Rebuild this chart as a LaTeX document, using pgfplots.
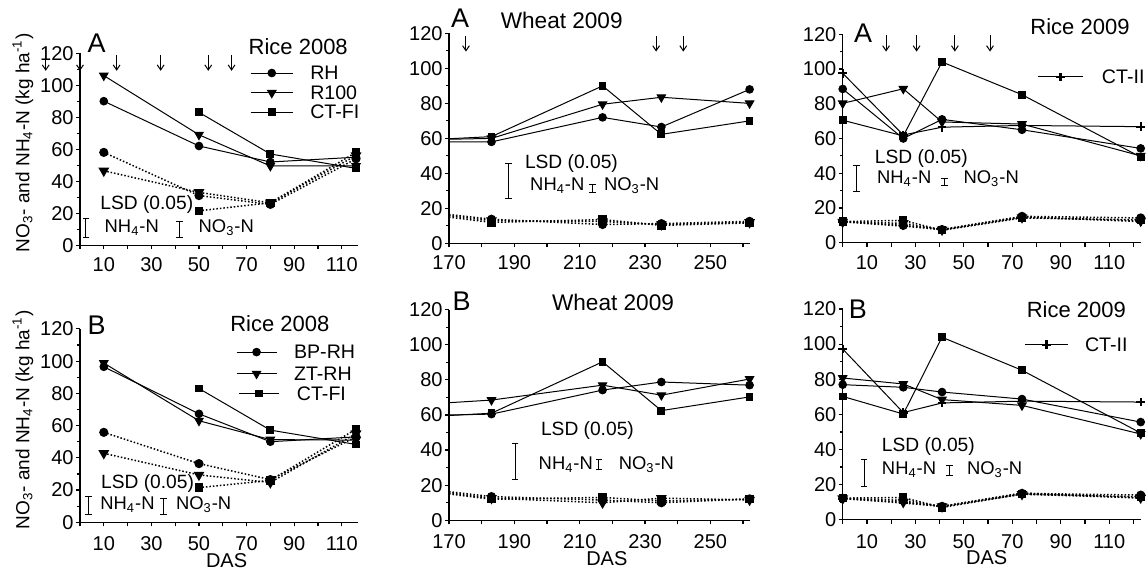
\documentclass[border=0pt]{standalone}
\usepackage{fontspec}
\setmainfont{Liberation Sans}
\usepackage{pgfplots}
\pgfplotsset{compat=1.18}
\usetikzlibrary{arrows.meta}

\newcommand{\fs}[1]{\fontsize{#1}{#1}\selectfont}
\newcommand{\nh}{NH\textsubscript{4}-N}
\newcommand{\no}{NO\textsubscript{3}-N}

\pgfplotsset{
  panel/.style={
    scale only axis,
    axis lines=left,
    axis line style={-, line width=0.6pt, black},
    every tick/.style={black, line width=0.6pt},
    tick align=outside,
    major tick length=2pt,
    minor tick length=1.3pt,
    ymin=0, ymax=120,
    ytick={0,20,...,120},
    minor ytick={10,30,...,110},
    /pgf/number format/assume math mode=true,
    ticklabel style={font=\fs{10}},
    yticklabel style={inner sep=1pt},
    xticklabel style={inner sep=1.5pt, yshift=-2.5pt},
    clip=false,
  },
  bottomrow/.style={xticklabel style={inner sep=1.5pt, yshift=-1pt}},
  riceax/.style={xmin=0, xtick={0,10,...,120}, xticklabels={,10,,30,,50,,70,,90,,110,}},
  wheatax/.style={xmin=170, xmax=262, xtick={170,180,...,260}, xticklabels={170,,190,,210,,230,,250,}},
  sol/.style={black, line width=0.5pt},
  dot/.style={black, line width=0.75pt, densely dotted},
  circ/.style={mark=*, mark options={solid, fill=black}, mark size=1.9pt},
  tri/.style={mark=triangle*, mark options={solid, fill=black, rotate=180}, mark size=2.4pt},
  sq/.style={mark=square*, mark options={solid, fill=black}, mark size=1.7pt},
  pl/.style={mark=+, mark options={solid, line width=1.1pt}, mark size=2.2pt},
  arr/.style={black, line width=0.5pt, -{Straight Barb[length=2.5pt, width=3.4pt]}},
  lsd/.style={black, line width=0.5pt, mark=-, mark options={solid}, mark size=1.7pt},
}

\begin{document}
\begin{tikzpicture}
\useasboundingbox (0,0) rectangle (573pt,288pt);

%================ Rice 2008, A ================
\begin{axis}[panel, riceax, xmax=117, at={(40pt,165.4pt)}, anchor=south west,
  width=139.2pt, height=96pt]
% NH4-N
\addplot[sol, circ] coordinates {(10,90) (50,62) (80,52) (116,55)};
\addplot[sol, tri]  coordinates {(10,106) (50,69) (80,49.5) (116,49.5)};
\addplot[sol, sq]   coordinates {(50,83) (80,57) (116,48)};
% NO3-N
\addplot[dot, circ] coordinates {(10,58) (50,31) (80,25.5) (116,54)};
\addplot[dot, tri]  coordinates {(10,46.5) (50,33) (80,26.5) (116,56)};
\addplot[dot, sq]   coordinates {(50,21.5) (80,26.5) (116,58)};
% N application dates
\addplot[arr] coordinates {(-14.4,119) (-14.4,109)};
\addplot[arr] coordinates {(0,119) (0,109)};
\addplot[arr] coordinates {(15.4,119) (15.4,109)};
\addplot[arr] coordinates {(33.9,119) (33.9,109)};
\addplot[arr] coordinates {(53.9,119) (53.9,109)};
\addplot[arr] coordinates {(63.7,119) (63.7,109)};
% legend
\addplot[sol] coordinates {(71.7,107.6) (89.6,107.6)};
\addplot[sol, circ] coordinates {(80.6,107.6)};
\addplot[sol] coordinates {(71.7,95.2) (89.6,95.2)};
\addplot[sol, tri] coordinates {(80.6,95.2)};
\addplot[sol] coordinates {(71.7,83.1) (89.6,83.1)};
\addplot[sol, sq] coordinates {(80.6,83.1)};
\node[anchor=west, font=\fs{9.8}] at (axis cs:93.8,107.6) {RH};
\node[anchor=west, font=\fs{9.8}] at (axis cs:93.8,95.2) {R100};
\node[anchor=west, font=\fs{9.8}] at (axis cs:93.8,83.1) {CT-FI};
% LSD
\addplot[lsd] coordinates {(2.5,16.6) (2.5,4.6)};
\addplot[lsd] coordinates {(41.7,14.9) (41.7,4.6)};
\node[anchor=west, font=\fs{9.6}] at (axis cs:5.6,25.3) {LSD (0.05)};
\node[anchor=west, font=\fs{9.2}] at (axis cs:7.4,10.8) {\nh};
\node[anchor=west, font=\fs{9.2}] at (axis cs:46.9,10.8) {\no};
% titles
\node[font=\fs{13.5}] at (axis cs:7,126.2) {A};
\node[anchor=east, font=\fs{11}] at (axis cs:115.5,124.1) {Rice 2008};
\node[rotate=90, font=\fs{9.5}] at (axis cs:-24,64) {NO\textsubscript{3}- and NH\textsubscript{4}-N (kg ha\textsuperscript{-1})};
\end{axis}

%================ Wheat 2009, A ================
\begin{axis}[panel, wheatax, at={(224.5pt,166.3pt)}, anchor=south west,
  width=150.3pt, height=105pt]
\addplot[sol, circ, mark indices={2,3,4,5}] coordinates {(170,58) (183,58) (217,72) (235,66.5) (262,88)};
\addplot[sol, tri, mark indices={2,3,4,5}]  coordinates {(170,59.5) (183,60) (217,79.5) (235,83.5) (262,80)};
\addplot[sol, sq, mark indices={2,3,4,5}]   coordinates {(170,59.8) (183,61) (217,90) (235,62.3) (262,70)};
\addplot[dot, circ, mark indices={2,3,4,5}] coordinates {(170,16.5) (183,13.8) (217,10.8) (235,11.3) (262,12.6)};
\addplot[dot, tri, mark indices={2,3,4,5}]  coordinates {(170,15.8) (183,13) (217,12.5) (235,10.8) (262,12)};
\addplot[dot, sq, mark indices={2,3,4,5}]   coordinates {(170,15) (183,12) (217,13.6) (235,10.3) (262,11.7)};
\addplot[arr] coordinates {(175.2,118.5) (175.2,109.6)};
\addplot[arr] coordinates {(233.4,118.5) (233.4,109.6)};
\addplot[arr] coordinates {(241.7,118.5) (241.7,109.6)};
\addplot[lsd] coordinates {(188.2,45.7) (188.2,25.5)};
\addplot[lsd] coordinates {(213.9,33.6) (213.9,29.3)};
\node[anchor=west, font=\fs{9.6}] at (axis cs:191.1,45.5) {LSD (0.05)};
\node[anchor=west, font=\fs{9.2}] at (axis cs:192.7,33.1) {\nh};
\node[anchor=west, font=\fs{9.2}] at (axis cs:215.3,33.1) {\no};
\node[font=\fs{13.5}] at (axis cs:173.4,128.5) {A};
\node[font=\fs{11.3}] at (axis cs:204.5,127.5) {Wheat 2009};
\end{axis}

%================ Rice 2009, A ================
\begin{axis}[panel, riceax, xmax=123, at={(421.35pt,166.6pt)}, anchor=south west,
  width=149pt, height=104.3pt]
\addplot[sol, pl]   coordinates {(0,97.5) (25,62) (41,66.5) (74,67.5) (123,66.8)};
\addplot[sol, circ] coordinates {(0,88.5) (25,60) (41,71) (74,65) (123,54.3)};
\addplot[sol, tri]  coordinates {(0,80.2) (25,88.6) (41,69.5) (74,68.3) (123,50)};
\addplot[sol, sq]   coordinates {(0,70.5) (25,61.5) (41,104) (74,85.2) (123,49.3)};
\addplot[dot, circ] coordinates {(0,12.3) (25,10) (41,7.6) (74,15.2) (123,14.3)};
\addplot[dot, tri]  coordinates {(0,12) (25,11.2) (41,7.5) (74,14.6) (123,12.6)};
\addplot[dot, sq]   coordinates {(0,12.2) (25,12.9) (41,7.2) (74,14.3) (123,13.2)};
\addplot[dot, pl]   coordinates {(0,12) (25,9.6) (41,7.6) (74,15) (123,12.2)};
\addplot[arr] coordinates {(17.9,119.6) (17.9,110)};
\addplot[arr] coordinates {(30.5,119.6) (30.5,110)};
\addplot[arr] coordinates {(46.3,119.6) (46.3,110)};
\addplot[arr] coordinates {(60.8,119.6) (60.8,110)};
\addplot[sol] coordinates {(80.6,95.4) (99.2,95.4)};
\addplot[sol, pl] coordinates {(89.9,95.4)};
\node[anchor=west, font=\fs{9.8}] at (axis cs:104.1,95.4) {CT-II};
\addplot[lsd] coordinates {(5.8,44.3) (5.8,29.5)};
\addplot[lsd] coordinates {(41.9,36.7) (41.9,32.9)};
\node[anchor=west, font=\fs{9.6}] at (axis cs:10.4,48.2) {LSD (0.05)};
\node[anchor=west, font=\fs{9.2}] at (axis cs:11.3,36.7) {\nh};
\node[anchor=west, font=\fs{9.2}] at (axis cs:47,36.7) {\no};
\node[font=\fs{13.5}] at (axis cs:8.4,120.6) {A};
\node[anchor=east, font=\fs{11}] at (axis cs:121.3,124.3) {Rice 2009};
\end{axis}

%================ Rice 2008, B ================
\begin{axis}[panel, bottomrow, riceax, xmax=117, at={(40pt,26.85pt)}, anchor=south west,
  width=139.2pt, height=96.7pt]
\addplot[sol, circ] coordinates {(10,96.5) (50,67.3) (80,50) (116,53)};
\addplot[sol, tri]  coordinates {(10,98.8) (50,63) (80,51.3) (116,51)};
\addplot[sol, sq]   coordinates {(50,83) (80,57.2) (116,48.3)};
\addplot[dot, circ] coordinates {(10,55.8) (50,36.4) (80,26.5) (116,53)};
\addplot[dot, tri]  coordinates {(10,42.8) (50,29.4) (80,24.7) (116,55)};
\addplot[dot, sq]   coordinates {(50,21.5) (80,26) (116,57.8)};
\addplot[sol] coordinates {(65.8,105.6) (82.6,105.6)};
\addplot[sol, circ] coordinates {(74.2,105.6)};
\addplot[sol] coordinates {(65.8,92.2) (82.6,92.2)};
\addplot[sol, tri] coordinates {(74.2,92.2)};
\addplot[sol] coordinates {(66.8,79.9) (83.6,79.9)};
\addplot[sol, sq] coordinates {(75.2,79.9)};
\node[anchor=west, font=\fs{9.8}] at (axis cs:87,105.6) {BP-RH};
\node[anchor=west, font=\fs{9.8}] at (axis cs:87,92.2) {ZT-RH};
\node[anchor=west, font=\fs{9.8}] at (axis cs:88.2,79.9) {CT-FI};
\addplot[lsd] coordinates {(3.5,16.1) (3.5,4.7)};
\addplot[lsd] coordinates {(35,15) (35,4.7)};
\node[anchor=west, font=\fs{9.6}] at (axis cs:5.9,24.3) {LSD (0.05)};
\node[anchor=west, font=\fs{9.2}] at (axis cs:5.6,10.9) {\nh};
\node[anchor=west, font=\fs{9.2}] at (axis cs:37.4,10.9) {\no};
\node[font=\fs{13.5}] at (axis cs:7,122) {B};
\node[font=\fs{11}] at (axis cs:84,123.1) {Rice 2008};
\node[rotate=90, font=\fs{9.5}] at (axis cs:-24,63.5) {NO\textsubscript{3}- and NH\textsubscript{4}-N (kg ha\textsuperscript{-1})};
\node[font=\fs{10}] at (axis cs:61.6,-23.6) {DAS};
\end{axis}

%================ Wheat 2009, B ================
\begin{axis}[panel, bottomrow, wheatax, at={(224.5pt,27.85pt)}, anchor=south west,
  width=150.3pt, height=105.3pt]
\addplot[sol, circ, mark indices={2,3,4,5}] coordinates {(170,60) (183,60.5) (217,74.2) (235,78.8) (262,77)};
\addplot[sol, tri, mark indices={2,3,4,5}]  coordinates {(170,67) (183,68.5) (217,77) (235,71.3) (262,80.5)};
\addplot[sol, sq, mark indices={2,3,4,5}]   coordinates {(170,59.7) (183,61) (217,90.3) (235,62.5) (262,70.3)};
\addplot[dot, circ, mark indices={2,3,4,5}] coordinates {(170,16.3) (183,13.5) (217,11.5) (235,10) (262,12.2)};
\addplot[dot, tri, mark indices={2,3,4,5}]  coordinates {(170,15.6) (183,12.6) (217,10) (235,12.6) (262,11.6)};
\addplot[dot, sq, mark indices={2,3,4,5}]   coordinates {(170,15) (183,12) (217,13) (235,11) (262,12)};
\addplot[lsd] coordinates {(190.2,44) (190.2,23.5)};
\addplot[lsd] coordinates {(215.9,34.5) (215.9,28.8)};
\node[anchor=west, font=\fs{9.6}] at (axis cs:196,50.9) {LSD (0.05)};
\node[anchor=west, font=\fs{9.2}] at (axis cs:195.3,31.7) {\nh};
\node[anchor=west, font=\fs{9.2}] at (axis cs:219.8,31.7) {\no};
\node[font=\fs{13.5}] at (axis cs:173.9,125) {B};
\node[font=\fs{11.3}] at (axis cs:220.2,123.9) {Wheat 2009};
\node[font=\fs{10}] at (axis cs:218.3,-21.6) {DAS};
\end{axis}

%================ Rice 2009, B ================
\begin{axis}[panel, bottomrow, riceax, xmax=123, at={(421.35pt,28.15pt)}, anchor=south west,
  width=149pt, height=105.35pt]
\addplot[sol, pl]   coordinates {(0,97.2) (25,61) (41,66.5) (74,67.5) (123,67)};
\addplot[sol, circ] coordinates {(0,76.9) (25,75.4) (41,72.7) (74,68.7) (123,55.6)};
\addplot[sol, tri]  coordinates {(0,80.7) (25,77.3) (41,68.4) (74,65.1) (123,48.8)};
\addplot[sol, sq]   coordinates {(0,70.2) (25,60.2) (41,103.9) (74,85.1) (123,49.4)};
\addplot[dot, circ] coordinates {(0,12.2) (25,11) (41,7.6) (74,15) (123,14)};
\addplot[dot, tri]  coordinates {(0,12) (25,10) (41,7.5) (74,14.5) (123,12.5)};
\addplot[dot, sq]   coordinates {(0,12.3) (25,12.6) (41,7) (74,14.6) (123,13)};
\addplot[dot, pl]   coordinates {(0,12) (25,9.5) (41,7.6) (74,15.2) (123,12.3)};
\addplot[sol] coordinates {(75.2,99.7) (93,99.7)};
\addplot[sol, pl] coordinates {(84.1,99.7)};
\node[anchor=west, font=\fs{9.8}] at (axis cs:97.1,99.7) {CT-II};
\addplot[lsd] coordinates {(8.8,34.2) (8.8,19)};
\addplot[lsd] coordinates {(44,30.6) (44,25.1)};
\node[anchor=west, font=\fs{9.6}] at (axis cs:13.3,41.8) {LSD (0.05)};
\node[anchor=west, font=\fs{9.2}] at (axis cs:13.3,28.5) {\nh};
\node[anchor=west, font=\fs{9.2}] at (axis cs:48.4,28.5) {\no};
\node[font=\fs{13.5}] at (axis cs:6.3,119.6) {B};
\node[anchor=east, font=\fs{11}] at (axis cs:119.8,119.6) {Rice 2009};
\node[font=\fs{10}] at (axis cs:59.4,-21.6) {DAS};
\end{axis}
\end{tikzpicture}
\end{document}
